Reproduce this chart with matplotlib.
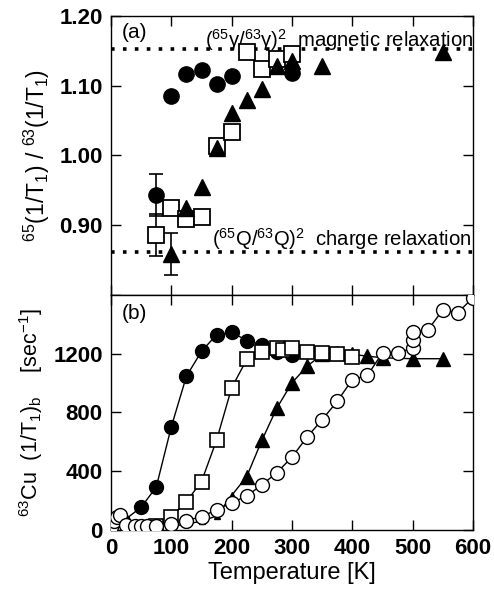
import matplotlib
matplotlib.use('Agg')
import matplotlib.pyplot as plt

plt.rcParams['font.family'] = ['Liberation Sans', 'DejaVu Sans']
plt.rcParams['mathtext.fontset'] = 'custom'
plt.rcParams['mathtext.rm'] = 'Liberation Sans'
plt.rcParams['mathtext.it'] = 'Liberation Sans'
plt.rcParams['mathtext.bf'] = 'Liberation Sans:bold'

# (a) isotope ratio of 1/T1
ratio_circ_T = [75, 100, 125, 150, 175, 200, 300]
ratio_circ = [0.943, 1.085, 1.117, 1.123, 1.103, 1.114, 1.118]
ratio_sq_T = [75, 100, 125, 150, 175, 200, 225, 250, 275, 300]
ratio_sq = [0.886, 0.924, 0.909, 0.912, 1.013, 1.033, 1.148, 1.124, 1.138, 1.146]
ratio_tri_T = [100, 125, 150, 175, 200, 225, 250, 275, 300, 350, 550]
ratio_tri = [0.859, 0.925, 0.955, 1.011, 1.061, 1.079, 1.095, 1.128, 1.135, 1.128, 1.149]
err_T = [75, 75, 100]
err_val = [0.943, 0.886, 0.859]
err_size = [0.03, 0.03, 0.03]
magnetic_ratio = 1.152
charge_ratio = 0.862

# (b) 63Cu (1/T1)_b
b_circ_T = [20, 50, 75, 100, 125, 150, 175, 200, 225, 250, 275, 300]
b_circ = [60, 155, 292, 703, 1047, 1216, 1330, 1346, 1290, 1262, 1210, 1190]
b_sq_T = [75, 100, 125, 150, 175, 200, 225, 250, 275, 285, 300, 325, 350, 375, 400]
b_sq = [30, 91, 193, 330, 612, 968, 1161, 1213, 1241, 1225, 1241, 1213, 1207, 1195, 1180]
b_tri_T = [100, 125, 150, 175, 200, 225, 250, 275, 300, 325, 350, 375, 400, 425, 450, 500, 550]
b_tri = [25, 40, 60, 95, 235, 364, 610, 831, 1002, 1115, 1195, 1205, 1195, 1184, 1172, 1166, 1166]
b_open_T = [0, 5, 10, 15, 25, 40, 50, 60, 75, 100, 125, 150, 175, 200, 225, 250, 275,
            300, 325, 350, 375, 400, 425, 450, 475, 500, 500, 500, 525, 550, 575, 600]
b_open = [20, 60, 90, 105, 35, 25, 25, 25, 28, 41, 64, 91, 137, 185, 232, 307, 391,
          496, 633, 751, 876, 1024, 1052, 1207, 1202, 1241, 1293, 1348, 1361, 1498, 1480, 1582]

fig = plt.figure(figsize=(4.94, 5.89), dpi=100)
ax1 = fig.add_axes([0.2247, 0.4992, 0.7328, 0.4736])
ax2 = fig.add_axes([0.2247, 0.1002, 0.7328, 0.3990])

ms = 10
dots = (0, (1, 2.3))
# --- top panel
ax1.axhline(magnetic_ratio, color='black', lw=2.6, ls=dots, zorder=1)
ax1.axhline(charge_ratio, color='black', lw=2.6, ls=dots, zorder=1)
ax1.errorbar(err_T, err_val, yerr=err_size, fmt='none', ecolor='black',
             elinewidth=1.2, capsize=5, capthick=1.2, zorder=2)
ax1.plot(ratio_circ_T, ratio_circ, 'o', color='black', ms=ms + 1, zorder=3)
ax1.plot(ratio_sq_T, ratio_sq, 's', mfc='white', mec='black', mew=1.3, ms=ms + 1, zorder=4)
ax1.plot(ratio_tri_T, ratio_tri, '^', color='black', ms=ms + 1, zorder=5)
ax1.set_xlim(0, 600)
ax1.set_ylim(0.80, 1.20)
ax1.set_yticks([0.80, 0.90, 1.00, 1.10, 1.20])
ax1.set_yticklabels(['', '0.90', '1.00', '1.10', '1.20'])
ax1.set_xticks(range(0, 601, 100))
ax1.set_xticklabels([])
ax1.set_ylabel('$^{65}$(1/T$_1$) / $^{63}$(1/T$_1$)', fontsize=16.5, labelpad=5)
ax1.text(0.03, 0.975, '(a)', transform=ax1.transAxes, fontsize=15, va='top')
ax1.text(155, 1.1557, '($^{65}$γ/$^{63}$γ)$^2$  magnetic relaxation', fontsize=14.6, va='baseline')
ax1.text(167, 0.870, '($^{65}$Q/$^{63}$Q)$^2$  charge relaxation', fontsize=14.6, va='baseline')

# --- bottom panel
ax2.plot(b_circ_T, b_circ, '-o', color='black', lw=1, ms=ms, zorder=3)
# low-T triangles sit under the open circles and show only as small marks
ax2.plot(b_tri_T, b_tri, '-', color='black', lw=1, zorder=2)
ax2.plot(b_tri_T[:5], b_tri[:5], '^', color='black', ms=4, zorder=2)
ax2.plot(b_tri_T[5:], b_tri[5:], '^', color='black', ms=ms, zorder=2)
ax2.plot(b_sq_T, b_sq, '-s', color='black', mfc='white', mec='black', mew=1.2, lw=1, ms=ms, zorder=4)
ax2.plot(b_open_T, b_open, '-o', color='black', mfc='white', mec='black', mew=1, lw=1, ms=ms, zorder=5)
ax2.set_xlim(0, 600)
ax2.set_ylim(0, 1600)
ax2.set_yticks([0, 400, 800, 1200])
ax2.set_xticks(range(0, 601, 100))
ax2.set_xlabel('Temperature [K]', fontsize=17, labelpad=2)
ax2.set_ylabel(r'$^{63}$Cu  (1/T$_1$)$_\mathrm{b}$    [sec$^{-1}$]', fontsize=15.5, labelpad=6)
ax2.text(0.03, 0.96, '(b)', transform=ax2.transAxes, fontsize=15, va='top')

for ax in (ax1, ax2):
    ax.tick_params(direction='in', top=True, right=True, length=7, width=1,
                   labelsize=16, pad=6)
    for lab in ax.get_xticklabels() + ax.get_yticklabels():
        lab.set_fontweight('bold')
    for sp in ax.spines.values():
        sp.set_linewidth(1)

fig.savefig('out.png', dpi=100)
